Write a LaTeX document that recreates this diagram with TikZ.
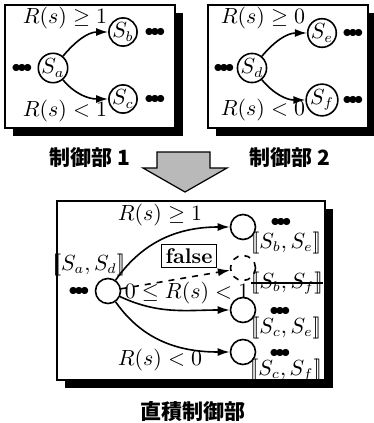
\documentclass[tikz,border=0pt]{standalone}
\usepackage{fontspec}
\newfontfamily\cjk{Noto Sans CJK JP}
\usetikzlibrary{positioning,shadows,arrows.meta}
\newcommand{\tdots}{\ensuremath{{\bullet}\mkern-3.5mu{\bullet}\mkern-3.5mu{\bullet}}}
\newcommand{\pairof}[2]{\ensuremath{[\![#1,#2]\!]}}

\begin{document}
\begin{tikzpicture}[x=0.5pt, y=-0.5pt, >={Latex[length=6pt,width=4pt]},
  every node/.style={align=center, font=\fontsize{10.6}{12}\selectfont},
  panel/.style={draw, line width=1pt, fill=white, drop shadow={shadow xshift=4pt, shadow yshift=-4pt, fill=black, opacity=1}},
  state/.style={circle, draw, line width=0.8pt, minimum size=13pt, inner sep=0pt},
  trans/.style={->, line width=0.8pt},
  dotrow/.style={inner sep=0pt, font=\small},
  cjklabel/.style={font=\cjk\bfseries\fontsize{10.5}{12}\selectfont}]
\useasboundingbox (0,0) rectangle (374,423);

% Controller 1
\node[panel, minimum width=85pt, minimum height=61.5pt] (ctrlA) at (90,66.5) {};
\node[state] (sa) at (53,68) {$S_a$};
\node[state] (sb) at (123,32) {$S_b$};
\node[state] (sc) at (123,99) {$S_c$};
\node[dotrow] (dotsa) at (22,68) {\tdots};
\node[dotrow] (dotsb) at (155,32) {\tdots};
\node[dotrow] (dotsc) at (155,99) {\tdots};
\node (geqa) at (65,18) {$R(s)\geq 1$};
\node (lta) at (65,111) {$R(s)<1$};
\draw[trans] (sa) to[out=50,in=180] (sb);
\draw[trans] (sa) to[out=-50,in=180] (sc);

% Controller 2
\node[panel, minimum width=80pt, minimum height=61.5pt] (ctrlB) at (287.5,66.5) {};
\node[state] (sd) at (252,68) {$S_d$};
\node[state] (se) at (322,33) {$S_e$};
\node[state] (sf) at (322,100) {$S_f$};
\node[dotrow] (dotsd) at (224,68) {\tdots};
\node[dotrow] (dotse) at (353,33) {\tdots};
\node[dotrow] (dotsf) at (353,100) {\tdots};
\node (geqb) at (263,18) {$R(s)\geq 0$};
\node (ltb) at (263,110) {$R(s)<0$};
\draw[trans] (sd) to[out=50,in=180] (se);
\draw[trans] (sd) to[out=-50,in=180] (sf);

% Captions and merge arrow
\node[cjklabel] (capA) at (90,158) {制御部 1};
\node[cjklabel] (capB) at (290,158) {制御部 2};
\filldraw[fill=gray!55, draw=black, line width=0.6pt]
  (157,152) -- (210,152) -- (210,168) -- (227,168) -- (185,192) -- (143,168) -- (157,168) -- cycle;

% Product controller
\node[panel, minimum width=134pt, minimum height=89.5pt] (prod) at (191,290.5) {};
\node[state, minimum size=12.5pt] (s0) at (108,291) {};
\node[dotrow] (dots0) at (79,291) {\tdots};
\node[inner sep=1pt] (pair0) at (89,265) {\pairof{S_a}{S_d}};
\node[state, minimum size=12.5pt] (t1) at (243,227) {};
\node[state, minimum size=12.5pt, dashed] (t2) at (243,268) {};
\node[state, minimum size=12.5pt] (t3) at (243,310) {};
\node[state, minimum size=12.5pt] (t4) at (243,352) {};
\node[dotrow] (dots1) at (281,222) {\tdots};
\node[inner sep=1pt] (pair1) at (286,243) {\pairof{S_b}{S_e}};
\node[inner sep=0pt] (pair2) at (287,283) {\pairof{S_b}{S_f}};
\draw[line width=0.6pt] (pair2.west) -- (pair2.east);
\node[dotrow] (dots3) at (280,311) {\tdots};
\node[inner sep=0.5pt] (pair3) at (286,328) {\pairof{S_c}{S_e}};
\node[dotrow] (dots4) at (280,353) {\tdots};
\node[inner sep=0.5pt] (pair4) at (286,370) {\pairof{S_c}{S_f}};
\node (geqc) at (160,215) {$R(s)\geq 1$};
\node[draw, line width=0.8pt, inner sep=2pt] (false) at (189,256) {\textbf{false}};
\node (midc) at (187,293) {$0\leq R(s)<1$};
\node (ltc) at (160,360) {$R(s)<0$};
\draw[trans] (s0) to[out=55,in=180] (t1);
\draw[trans, dashed] (s0) -- (t2);
\draw[trans] (s0) to[out=-25,in=180] (t3);
\draw[trans] (s0) to[out=-55,in=180] (t4);
\node[cjklabel] (capC) at (193,412) {直積制御部};
\end{tikzpicture}
\end{document}
